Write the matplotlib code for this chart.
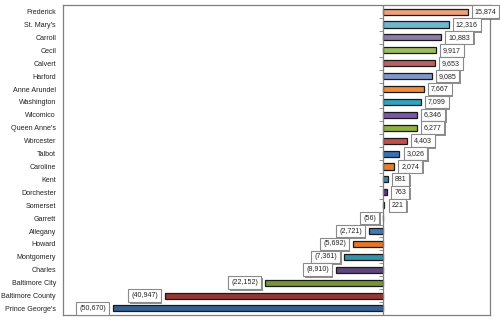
import numpy as np
import matplotlib
matplotlib.use("Agg")
import matplotlib.pyplot as plt
import matplotlib.patheffects as pe

plt.rcParams["font.family"] = ["Liberation Sans", "DejaVu Sans"]

counties = ["Frederick", "St. Mary's", "Carroll", "Cecil", "Calvert", "Harford",
            "Anne Arundel", "Washington", "Wicomico", "Queen Anne's", "Worcester",
            "Talbot", "Caroline", "Kent", "Dorchester", "Somerset", "Garrett",
            "Allegany", "Howard", "Montgomery", "Charles", "Baltimore City",
            "Baltimore County", "Prince George's"]
change = [15874, 12316, 10883, 9917, 9653, 9085, 7667, 7099, 6346, 6277, 4403,
          3026, 2074, 881, 763, 221, -56, -2721, -5692, -7361, -8910, -22152,
          -40947, -50670]
bar_colors = ["#EBA27C", "#70B6CC", "#8D7BAA", "#9DBB63", "#B9625F", "#7F98C8",
              "#F08C3C", "#33A2BC", "#7A57A8", "#8FB243", "#C0504D", "#3C70B2",
              "#E08032", "#2F90A8", "#5A3C82", "#77933C", "#A03A38", "#4079B5",
              "#E0782C", "#3194AA", "#5C4879", "#77933C", "#943634", "#365F91"]


def fmt(v):
    s = f"{abs(v):,}"
    return f"({s})" if v < 0 else s


fig = plt.figure(figsize=(5, 3.22), dpi=100)
ax = fig.add_axes([0.126, 0.022, 0.854, 0.962])

y = np.arange(len(counties))
ax.barh(y, change, height=0.47, color=bar_colors, edgecolor="#1a1a1a",
        linewidth=0.9, zorder=2)

ax.set_xlim(-60000, 20000)
ax.set_ylim(len(counties) - 0.5, -0.5)
ax.set_yticks(y)
ax.set_yticklabels(counties, fontsize=5.1, color="#222222")
ax.tick_params(axis="y", length=0, pad=5)
ax.set_xticks([])

for s in ax.spines.values():
    s.set_color("#7f7f7f")
    s.set_linewidth(0.9)

# category axis sits on the zero line
ax.axvline(0, color="#7f7f7f", lw=0.9, zorder=3)
ax.plot(np.zeros(len(counties) + 1), np.arange(len(counties) + 1) - 0.5,
        linestyle="none", marker=0, markersize=3, color="#7f7f7f",
        markeredgewidth=0.6, zorder=3)

shadow = [pe.SimplePatchShadow(offset=(1.2, -1.2), shadow_rgbFace="#606060",
                               alpha=0.7), pe.Normal()]
for yi, v in zip(y, change):
    off = 1300 if v >= 0 else -1300
    t = ax.text(v + off, yi, fmt(v), ha="left" if v >= 0 else "right",
                va="center", fontsize=5.1, color="#222222", zorder=4,
                bbox=dict(boxstyle="square,pad=0.4", fc="white",
                          ec="#8a8a8a", lw=0.8))
    t.get_bbox_patch().set_path_effects(shadow)

plt.savefig("out.png", dpi=100)
